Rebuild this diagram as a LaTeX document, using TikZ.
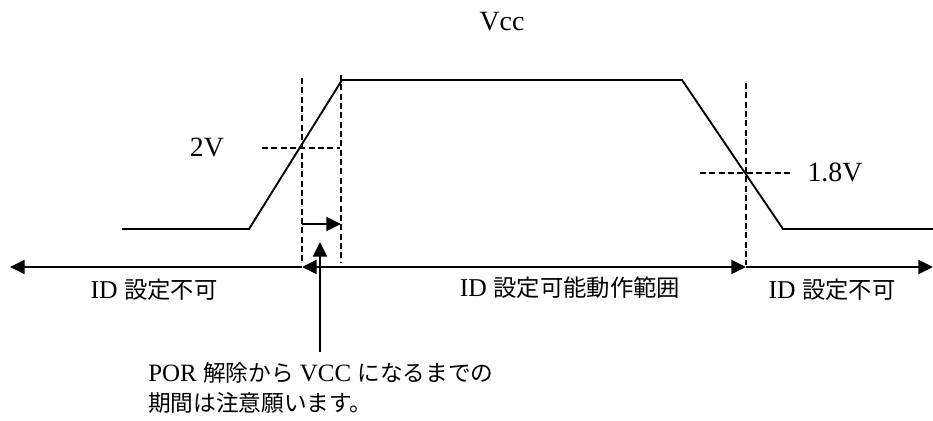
\documentclass[tikz,border=0pt]{standalone}
\usepackage{fontspec}
\setmainfont{Liberation Serif}[Scale=1.1]
\newfontfamily\jp{Noto Sans CJK JP}
\usetikzlibrary{arrows.meta}

\begin{document}
\begin{tikzpicture} [x=.75pt, y=-.75pt, >={Triangle[length=11pt, width=10.5pt]},
  wave/.style={line width=1.4pt}, guide/.style={line width=.9pt, dash pattern=on 4.5pt off 2.5pt},
  volt/.style={font=\fontsize{19}{24}\selectfont},
  lbl/.style={font=\fontsize{17.5}{22.5}\selectfont}]
\useasboundingbox (0,0) rectangle (933,421);
% signal
\coordinate (s0) at (122,229); \coordinate (r0) at (249,229); \coordinate (r1) at (342,80);
\coordinate (f0) at (682,80); \coordinate (f1) at (783,229); \coordinate (s1) at (933,229);
\draw [wave] (s0) -- (r0) -- (r1) -- (f0) -- (f1) -- (s1);
% guides
\coordinate (p0) at (302,78); \coordinate (p1) at (302,263);
\coordinate (q0) at (341,75); \coordinate (q1) at (341,262);
\coordinate (h0) at (262,148); \coordinate (h1) at (340,148);
\coordinate (d0) at (746,83); \coordinate (d1) at (746,265);
\coordinate (g0) at (700,173); \coordinate (g1) at (793,173);
\draw [guide] (p0) -- (p1) (q0) -- (q1) (h0) -- (h1) (d0) -- (d1) (g0) -- (g1);
% spans
\coordinate (a0) at (10,267); \coordinate (a1) at (302,267); \coordinate (a2) at (746,267); \coordinate (a3) at (933,267);
\draw [wave, <-] (a0) -- (a1);
\draw [wave, <->] (a1) -- (a2);
\draw [wave, ->] (a2) -- (a3);
\coordinate (t0) at (302,224); \coordinate (t1) at (341,224);
\draw [wave, ->] (t0) -- (t1);
\coordinate (n0) at (320,352); \coordinate (n1) at (320,242);
\draw [wave, ->] (n0) -- (n1);
% labels
\node [volt] (vcc) at (502,22) {Vcc};
\node [volt] (v2) at (207,147) {2V};
\node [volt] (v18) at (835,172) {1.8V};
\node [lbl] (ng1) at (154,290) {ID {\jp 設定不可}};
\node [lbl] (ok) at (570,288) {ID {\jp 設定可能動作範囲}};
\node [lbl] (ng2) at (832,290) {ID {\jp 設定不可}};
\node [lbl, font=\fontsize{17}{22.5}\selectfont, anchor=west, align=left, inner sep=0pt] (note) at (148,388) {POR {\jp 解除から} VCC {\jp になるまでの}\\{\jp 期間は注意願います。}};
\end{tikzpicture}
\end{document}
